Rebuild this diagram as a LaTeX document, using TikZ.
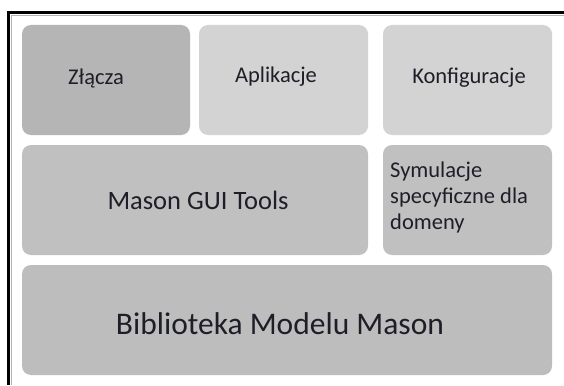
\documentclass[tikz,border=0pt]{standalone}
\usepackage{fontspec}
\setmainfont{Carlito}
\definecolor{boxdark}{HTML}{B5B5B5}
\definecolor{boxlight}{HTML}{D3D3D3}
\definecolor{boxmid}{HTML}{C0C0C0}
\definecolor{boxbase}{HTML}{BDBDBD}
\definecolor{txt}{HTML}{1E1E28}
\begin{document}
\begin{tikzpicture}[x=1pt,y=-1pt,
  blk/.style={fill=#1,draw=none,rounded corners=9pt},
  lbl/.style={text=txt,inner sep=0pt,font=\fontsize{22.5}{26}\selectfont}]
\useasboundingbox (0,0) rectangle (564,385);
\fill[white] (0,0) rectangle (564,385);
% frame (top and left only)
\coordinate (fTL) at (8.5,12.5);
\coordinate (fTR) at (564,12.5);
\coordinate (fBL) at (8.5,385);
\draw[line width=3pt,black] (fTR) -- (fTL) -- (fBL);
\draw[line width=0.8pt,gray!60] (564,15.5) -- (11.5,15.5) -- (11.5,385);
% boxes
\path[blk=boxdark] (22,25) rectangle (190,135) node[midway] (zl) {};
\path[blk=boxlight] (199,25) rectangle (368,135) node[midway] (ap) {};
\path[blk=boxlight] (383,25) rectangle (552,135) node[midway] (ko) {};
\path[blk=boxmid] (22,145) rectangle (368,255) node[midway] (gui) {};
\path[blk=boxmid] (383,145) rectangle (552,255) node[midway] (sym) {};
\path[blk=boxbase] (22,265) rectangle (552,375) node[midway] (bib) {};
% labels
\node[lbl] (tzl) at (96,79) {Złącza};
\node[lbl] (tap) at (276,77) {Aplikacje};
\node[lbl] (tko) at (469,78) {Konfiguracje};
\node[lbl,font=\fontsize{26.5}{30}\selectfont] (tgui) at (198,200) {Mason GUI Tools};
\node[lbl,align=left,anchor=base west] (tsym) at (390,229) {Symulacje\\specyficzne dla\\domeny};
\node[lbl,font=\fontsize{31.5}{36}\selectfont] (tbib) at (280,324) {Biblioteka Modelu Mason};
\end{tikzpicture}
\end{document}
